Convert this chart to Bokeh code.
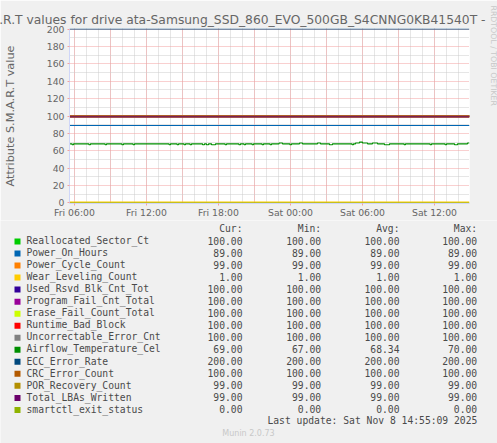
from bokeh.plotting import figure
from bokeh.layouts import column, row
from bokeh.models import Range1d, FixedTicker, Title, ColumnDataSource
from bokeh.core.properties import value
from bokeh.embed import file_html
from bokeh.resources import INLINE

# ---------------- data ----------------
TITLE = "S.M.A.R.T values for drive ata-Samsung_SSD_860_EVO_500GB_S4CNNG0KB41540T -"
Y_LABEL = "Attribute S.M.A.R.T value"
WATERMARK = "RRDTOOL / TOBI OETIKER"
LAST_UPDATE = "Last update: Sat Nov  8 14:55:09 2025"
VERSION = "Munin 2.0.73"

series_names = ["Reallocated_Sector_Ct", "Power_On_Hours", "Power_Cycle_Count",
                "Wear_Leveling_Count", "Used_Rsvd_Blk_Cnt_Tot", "Program_Fail_Cnt_Total",
                "Erase_Fail_Count_Total", "Runtime_Bad_Block", "Uncorrectable_Error_Cnt",
                "Airflow_Temperature_Cel", "ECC_Error_Rate", "CRC_Error_Count",
                "POR_Recovery_Count", "Total_LBAs_Written", "smartctl_exit_status"]
cur_vals = [100, 89, 99, 1, 100, 100, 100, 100, 100, 69, 200, 100, 99, 99, 0]
min_vals = [100, 89, 99, 1, 100, 100, 100, 100, 100, 67, 200, 100, 99, 99, 0]
avg_vals = [100, 89, 99, 1, 100, 100, 100, 100, 100, 68.34, 200, 100, 99, 99, 0]
max_vals = [100, 89, 99, 1, 100, 100, 100, 100, 100, 70, 200, 100, 99, 99, 0]
series_colors = ["#00CC00", "#0066B3", "#FF8000", "#FFCC00", "#330099", "#990099",
                 "#CCFF00", "#FF0000", "#808080", "#008F00", "#00487D", "#B35A00",
                 "#B38F00", "#6B006B", "#8FB300"]
TEMP_INDEX = 9
legend_headers = ["Cur:", "Min:", "Avg:", "Max:"]

# time axis: hours since Fri 00:00
time_start = 5 + 35 / 60
time_end = 38 + 55 / 60
x_tick_hours = [6, 12, 18, 24, 30, 36]
x_tick_labels = ["Fri 06:00", "Fri 12:00", "Fri 18:00", "Sat 00:00", "Sat 06:00", "Sat 12:00"]
x_grid_major = [6, 9, 12, 15, 18, 21, 24, 27, 30, 33, 36]
x_grid_minor = list(range(6, 39))
y_ticks = [0, 20, 40, 60, 80, 100, 120, 140, 160, 180, 200]
y_grid_minor = [10, 30, 50, 70, 90, 110, 130, 150, 170, 190]

# Airflow temperature readings (step changes): time in hours, value
temp_times = [5.58, 5.80, 5.92, 7.20, 7.33, 8.55, 8.67, 9.95, 10.08, 10.88, 11.0,
              13.88, 14.0, 14.55, 14.67, 15.13, 15.25, 15.63, 15.75, 16.67, 16.83,
              17.0, 17.17, 17.42, 17.75, 18.55, 18.67, 19.70, 19.83, 20.13, 20.25,
              20.80, 20.92, 21.63, 21.75, 22.30, 22.42, 23.05, 23.33, 23.95, 24.08,
              24.75, 25.0, 26.25, 26.5, 27.25, 27.5, 29.13, 29.25, 29.42, 29.75,
              30.0, 30.42, 30.83, 31.25, 31.83, 32.25, 33.47, 33.58, 35.63, 35.75,
              36.88, 37.0, 37.67, 37.92, 38.75, 38.92]
temp_values = [68, 67, 68, 67, 68, 67, 68, 67, 68, 67, 68,
               67, 68, 67, 68, 67, 68, 67, 68, 67, 68,
               67, 68, 67, 68, 67, 68, 67, 68, 67, 68,
               67, 68, 67, 68, 67, 68, 69, 68, 67, 68,
               69, 68, 69, 68, 67, 68, 67, 68, 69, 70,
               69, 68, 69, 68, 67, 68, 67, 68, 67, 68,
               67, 68, 67, 68, 69, 69]

# ---------------- styling ----------------
BACK = "#F0F0F0"
FONT_COLOR = "#666666"
LEGEND_COLOR = "#4A4A4A"
AXIS_COLOR = "#CFD6F8"
MGRID = "#F2A0A0"
GRID = "#CCCCCC"
SANS = "DejaVu Sans"
MONO = "DejaVu Sans Mono"

W = 497
H1 = 218
H2 = 443 - H1

# ---------------- chart ----------------
p = figure(width=W, height=H1, output_backend="svg", toolbar_location=None,
           frame_width=400, frame_height=175,
           x_range=Range1d(time_start, time_end), y_range=Range1d(-0.6, 200.6),
           min_border_left=67, min_border_top=28, min_border_right=30, min_border_bottom=15)
p.border_fill_color = BACK
p.background_fill_color = "white"
p.outline_line_color = None

p.title = Title(text=TITLE, align="right", offset=-16, standoff=4,
                text_font=SANS, text_font_size="12.3px", text_font_style="normal",
                text_color=FONT_COLOR)
# spacer between frame and watermark, then the vertical watermark
p.add_layout(Title(text=" ", standoff=2.6, text_font=SANS, text_font_size="7.8px",
                   text_color=BACK), "right")
p.add_layout(Title(text=WATERMARK, align="left", offset=-23, vertical_align="middle",
                   standoff=8.6, text_font=SANS, text_font_size="7.8px",
                   text_font_style="normal", text_color="#C8C8C8"), "right")

p.xaxis.ticker = FixedTicker(ticks=x_tick_hours)
p.xaxis.major_label_overrides = {h: lab for h, lab in zip(x_tick_hours, x_tick_labels)}
p.yaxis.ticker = FixedTicker(ticks=y_ticks)
for ax in (p.xaxis[0], p.yaxis[0]):
    ax.axis_line_color = AXIS_COLOR
    ax.major_tick_line_color = MGRID
    ax.major_tick_out = 2
    ax.major_tick_in = 0
    ax.minor_tick_line_color = None
    ax.major_label_text_font = SANS
    ax.major_label_text_font_size = "9.3px"
    ax.major_label_text_color = FONT_COLOR
p.xaxis.major_label_standoff = 1
p.yaxis.major_label_standoff = 3
p.yaxis.axis_label = Y_LABEL
p.yaxis.axis_label_standoff = 27
p.yaxis.axis_label_text_font = SANS
p.yaxis.axis_label_text_font_size = "11.3px"
p.yaxis.axis_label_text_font_style = "normal"
p.yaxis.axis_label_text_color = FONT_COLOR

p.xgrid.ticker = FixedTicker(ticks=x_grid_major, minor_ticks=x_grid_minor)
p.ygrid.ticker = FixedTicker(ticks=y_ticks, minor_ticks=y_grid_minor)
for g in (p.xgrid[0], p.ygrid[0]):
    g.grid_line_color = MGRID
    g.grid_line_dash = "1 1"
    g.grid_line_width = 1
    g.minor_grid_line_color = GRID
    g.minor_grid_line_dash = "1 1"
    g.minor_grid_line_width = 1

for i, name in enumerate(series_names):
    if i == TEMP_INDEX:
        p.step(temp_times + [time_end], temp_values + [temp_values[-1]], mode="after",
               line_color=series_colors[i], line_width=1.1)
    else:
        p.line([time_start, time_end], [cur_vals[i], cur_vals[i]],
               line_color=series_colors[i], line_width=1.1)

# ---------------- legend table (pixel layout below the chart) ----------------
lg = figure(width=W, height=H2, output_backend="svg", toolbar_location=None,
            x_range=Range1d(0, W), y_range=Range1d(443, H1),
            x_axis_location=None, y_axis_location=None,
            min_border=0, min_border_left=0, min_border_right=0,
            min_border_top=0, min_border_bottom=0)
lg.border_fill_color = BACK
lg.background_fill_color = BACK
lg.outline_line_color = None
lg.grid.visible = False

row0, row_step = 238.2, 12.03
col_right = [242, 320.7, 399, 476.7]
rows_y = [row0 + row_step * i for i in range(len(series_names))]

src = ColumnDataSource(dict(
    y=rows_y, name=series_names, color=series_colors,
    cur=[f"{v:.2f}" for v in cur_vals],
    mn=[f"{v:.2f}" for v in min_vals],
    avg=[f"{v:.2f}" for v in avg_vals],
    mx=[f"{v:.2f}" for v in max_vals],
))
txt = dict(text_font=value(MONO), text_font_size="9.7px", text_color=LEGEND_COLOR,
           text_baseline="middle")
lg.text(x=col_right, y=[226.3] * 4, text=legend_headers, text_align="right", **txt)
lg.rect(x=17, y=[v + 0.8 for v in rows_y], width=6, height=6,
        fill_color=series_colors, line_color=None)
lg.text(x=26, y="y", text="name", text_align="left", source=src, **txt)
for col, cx in zip(["cur", "mn", "avg", "mx"], col_right):
    lg.text(x=cx, y="y", text=col, text_align="right", source=src, **txt)
lg.text(x=[482.7], y=[418.1], text=[LAST_UPDATE], text_align="right", **txt)
lg.text(x=[248], y=[431], text=[VERSION], text_align="center", text_baseline="middle",
        text_font=value(SANS), text_font_size="8px", text_color="#C8C8C8")

layout = column(p, row(lg), spacing=0)
open("out.html", "w").write(file_html(layout, INLINE))
